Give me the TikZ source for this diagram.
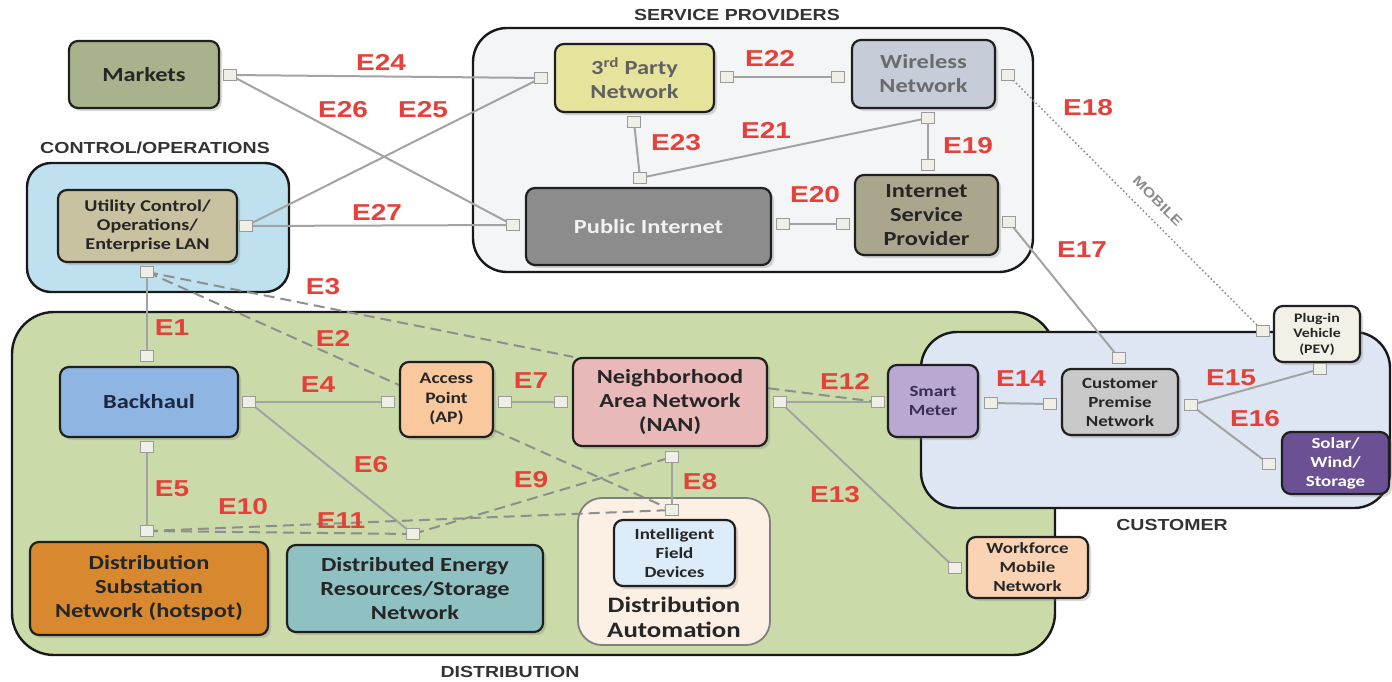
\documentclass[tikz,border=0pt]{standalone}
\usepackage{fontspec}
\newfontfamily\boxfont{Carlito}[FakeStretch=1.22]
\newfontfamily\tagfont{Liberation Sans}[FakeStretch=1.22]
\usetikzlibrary{shadows}

\definecolor{ered}{HTML}{E5413A}
\definecolor{wiregray}{HTML}{A3A3A3}
\definecolor{dashgray}{HTML}{8E8E8E}
\definecolor{portfill}{HTML}{EFEFE8}
\definecolor{portline}{HTML}{9A9A9A}
\definecolor{headgray}{HTML}{333333}
\definecolor{zonectl}{HTML}{BFE0EE}
\definecolor{zonesvc}{HTML}{F4F5F6}
\definecolor{zonedist}{HTML}{CADBA9}
\definecolor{zonecust}{HTML}{DEE6F3}
\definecolor{zoneda}{HTML}{FCEFE4}
\definecolor{cmarkets}{HTML}{A8B38D}
\definecolor{clan}{HTML}{C9C2A0}
\definecolor{cthird}{HTML}{E6E39C}
\definecolor{cwireless}{HTML}{C7CCD9}
\definecolor{cpubinet}{HTML}{8C8C8C}
\definecolor{cisp}{HTML}{AAA68D}
\definecolor{cbackhaul}{HTML}{8FB5E2}
\definecolor{cap}{HTML}{F9C89C}
\definecolor{cnan}{HTML}{E9B9B9}
\definecolor{csm}{HTML}{B9A9D2}
\definecolor{ccpn}{HTML}{C9C9C9}
\definecolor{cpev}{HTML}{F3F1E7}
\definecolor{csolar}{HTML}{6B5193}
\definecolor{cwmn}{HTML}{F9D3B3}
\definecolor{csub}{HTML}{D8892F}
\definecolor{cder}{HTML}{8FC0C2}
\definecolor{cifd}{HTML}{DCECF8}
\definecolor{navytext}{HTML}{1C2842}
\definecolor{plumtext}{HTML}{3A2C58}

\pgfdeclarelayer{zones}
\pgfdeclarelayer{wires}
\pgfsetlayers{zones,wires,main}

\tikzset{
  box/.style={draw=black!88, line width=2.2pt, rounded corners=9pt, align=center,
    inner sep=0pt, text=black!85,
    font=\boxfont\bfseries\fontsize{20}{24}\selectfont,
    drop shadow={shadow xshift=3pt, shadow yshift=-3pt, opacity=0.3}},
  dims/.style 2 args={minimum width=#1pt, minimum height=#2pt},
  midtext/.style={font=\boxfont\bfseries\fontsize{15.5}{19}\selectfont},
  smalltext/.style={font=\boxfont\bfseries\fontsize{13}{15.5}\selectfont},
  port/.style={draw=portline, fill=portfill, line width=1.5pt, minimum width=13pt,
    minimum height=11pt, inner sep=0pt},
  wire/.style={draw=wiregray, line width=2pt},
  dashwire/.style={draw=dashgray, line width=2pt, dash pattern=on 11pt off 6pt},
  dotwire/.style={draw=dashgray, line width=2.2pt, line cap=round, dash pattern=on 0pt off 4pt},
  zone/.style={draw=black!90, line width=2.4pt},
  etag/.style={text=ered, inner sep=0pt, font=\tagfont\bfseries\fontsize{23}{23}\selectfont},
  head/.style={text=headgray, inner sep=0pt, font=\tagfont\bfseries\fontsize{16}{16}\selectfont},
}

\begin{document}
\begin{tikzpicture}[x=1pt, y=-1pt]
\useasboundingbox (0,0) rectangle (1392,681);

% ---- domain areas ----
\begin{pgfonlayer}{zones}
  \draw[zone, fill=zonedist, rounded corners=42pt] (12,312) rectangle (1055,655);
  \draw[zone, fill=zonectl, rounded corners=24pt] (27,163) rectangle (289,292);
  \draw[zone, fill=zonesvc, rounded corners=34pt] (473,28) rectangle (1033,272);
  \draw[zone, fill=zonecust, rounded corners=36pt] (921,332) rectangle (1390,508);
  \draw[draw=black!50, line width=1.8pt, fill=zoneda, rounded corners=24pt] (578,498) rectangle (770,645);
\end{pgfonlayer}

% ---- domain headings ----
\node[head] (h-svc) at (737,15) {SERVICE PROVIDERS};
\node[head] (h-ctl) at (155,148) {CONTROL/OPERATIONS};
\node[head] (h-cust) at (1172,525) {CUSTOMER};
\node[head] (h-dist) at (510,672) {DISTRIBUTION};

% ---- network nodes ----
\node[box, fill=cmarkets, dims={150}{67}] (markets) at (144,74.5) {Markets};
\node[box, fill=clan, dims={179}{72}, font=\boxfont\bfseries\fontsize{16.5}{19}\selectfont] (lan) at (147.5,226) {Utility Control/\\Operations/\\Enterprise LAN};
\node[box, fill=cthird, dims={159}{68}, text=black!62] (third) at (634.5,78) {3\textsuperscript{rd} Party\\Network};
\node[box, fill=cwireless, dims={143}{68}, text=black!58] (wireless) at (923.5,74) {Wireless\\Network};
\node[box, fill=cpubinet, dims={245}{77}, text=white!95!black] (pubinet) at (648.5,226.5) {Public Internet};
\node[box, fill=cisp, dims={143}{80}] (isp) at (926.5,215) {Internet\\Service\\Provider};
\node[box, fill=cbackhaul, dims={178}{70}, text=navytext] (backhaul) at (149,402) {Backhaul};
\node[box, fill=cap, dims={93}{75}, font=\boxfont\bfseries\fontsize{16}{19.5}\selectfont] (ap) at (446.5,399.5) {Access\\Point\\(AP)};
\node[box, fill=cnan, dims={194}{88}] (nan) at (670,402) {Neighborhood\\Area Network\\(NAN)};
\node[box, fill=csm, dims={90}{72}, midtext, text=plumtext] (sm) at (933,401) {Smart\\Meter};
\node[box, fill=ccpn, dims={116}{66}, midtext] (cpn) at (1120,402) {Customer\\Premise\\Network};
\node[box, fill=cpev, dims={86}{56}, smalltext] (pev) at (1317,334) {Plug-in\\Vehicle\\(PEV)};
\node[box, fill=csolar, dims={107}{62}, midtext, text=white] (solar) at (1335.5,463) {Solar/\\Wind/\\Storage};
\node[box, fill=cwmn, dims={121}{61}, midtext] (wmn) at (1027.5,567.5) {Workforce\\Mobile\\Network};
\node[box, fill=csub, dims={238}{93}] (subst) at (149,588.5) {Distribution\\Substation\\Network (hotspot)};
\node[box, fill=cder, dims={256}{87}] (der) at (415,588.5) {Distributed Energy\\Resources/Storage\\Network};
\node[box, fill=cifd, dims={121}{66}, midtext] (ifd) at (674.5,553) {Intelligent\\Field\\Devices};
\node[align=center, inner sep=0pt, text=black!85, font=\boxfont\bfseries\fontsize{22}{25}\selectfont] (dalabel) at (674,617) {Distribution\\Automation};

% ---- interface ports ----
\node[port] (pt-mk)   at (230,75) {};
\node[port] (pt-tpl)  at (541,78) {};
\node[port] (pt-tpr)  at (727,77) {};
\node[port] (pt-tpb)  at (634,122) {};
\node[port] (pt-wl)   at (838,77) {};
\node[port] (pt-wr)   at (1008,75) {};
\node[port] (pt-wb)   at (928,118) {};
\node[port] (pt-pil)  at (513,225) {};
\node[port] (pt-pir)  at (783,224) {};
\node[port] (pt-pit)  at (640,178) {};
\node[port] (pt-ispl) at (843,224) {};
\node[port] (pt-ispr) at (1009,222) {};
\node[port] (pt-ispt) at (928,165) {};
\node[port] (pt-lanr) at (246,226) {};
\node[port] (pt-lanb) at (147,272) {};
\node[port] (pt-bht)  at (147,356) {};
\node[port] (pt-bhr)  at (249,402) {};
\node[port] (pt-bhb)  at (147,447) {};
\node[port] (pt-apl)  at (388,402) {};
\node[port] (pt-apr)  at (505,402) {};
\node[port] (pt-nanl) at (561,402) {};
\node[port] (pt-nanr) at (780,402) {};
\node[port] (pt-nanb) at (672,457) {};
\node[port] (pt-sml)  at (878,402) {};
\node[port] (pt-smr)  at (991,403) {};
\node[port] (pt-cpnl) at (1050,404) {};
\node[port] (pt-cpnt) at (1119,358) {};
\node[port] (pt-cpnr) at (1191,405) {};
\node[port] (pt-pevl) at (1263,331) {};
\node[port] (pt-pevb) at (1320,369) {};
\node[port] (pt-sol)  at (1269,464) {};
\node[port] (pt-wmn)  at (955,568) {};
\node[port] (pt-sub)  at (147,531) {};
\node[port] (pt-der)  at (413,534) {};
\node[port] (pt-ifd)  at (672,510) {};

% ---- links ----
\begin{pgfonlayer}{wires}
  \draw[wire] (pt-mk.center) -- (pt-tpl.center);     % E24
  \draw[wire] (pt-mk.center) -- (pt-pil.center);     % E26
  \draw[wire] (pt-lanr.center) -- (pt-tpl.center);   % E25
  \draw[wire] (pt-lanr.center) -- (pt-pil.center);   % E27
  \draw[wire] (pt-tpr.center) -- (pt-wl.center);     % E22
  \draw[wire] (pt-tpb.center) -- (pt-pit.center);    % E23
  \draw[wire] (pt-pit.center) -- (pt-wb.center);     % E21
  \draw[wire] (pt-wb.center) -- (pt-ispt.center);    % E19
  \draw[wire] (pt-pir.center) -- (pt-ispl.center);   % E20
  \draw[dotwire] (pt-wr.center) -- node[pos=0.54, sloped, above=11pt, inner sep=0pt, text=black!45,
      font=\tagfont\bfseries\fontsize{13.5}{13.5}\selectfont] (mobile) {MOBILE} (pt-pevl.center); % E18
  \draw[wire] (pt-ispr.center) -- (pt-cpnt.center);  % E17
  \draw[wire] (pt-smr.center) -- (pt-cpnl.center);   % E14
  \draw[wire] (pt-cpnr.center) -- (pt-pevb.center);  % E15
  \draw[wire] (pt-cpnr.center) -- (pt-sol.center);   % E16
  \draw[wire] (pt-nanr.center) -- (pt-sml.center);   % E12
  \draw[dashwire] (nan.8) -- (pt-sml.center);        % E12
  \draw[wire] (pt-nanr.center) -- (pt-wmn.center);   % E13
  \draw[wire] (pt-apr.center) -- (pt-nanl.center);   % E7
  \draw[wire] (pt-bhr.center) -- (pt-apl.center);    % E4
  \draw[wire] (pt-bhr.center) -- (pt-der.center);    % E6
  \draw[wire] (pt-lanb.center) -- (pt-bht.center);   % E1
  \draw[wire] (pt-bhb.center) -- (pt-sub.center);    % E5
  \draw[wire] (pt-nanb.center) -- (pt-ifd.center);   % E8
  \draw[dashwire] (pt-lanb.center) -- (ap.163);      % E2
  \draw[dashwire] (pt-lanb.center) -- (nan.155);     % E3
  \draw[dashwire] (ap.-33) -- (pt-ifd.center);       % E9
  \draw[dashwire] (pt-der.center) -- (pt-nanb.center); % E9
  \draw[dashwire] (pt-sub.center) -- (pt-ifd.center);  % E10
  \draw[dashwire] (pt-sub.center) -- (pt-der.center);  % E11
\end{pgfonlayer}

% ---- interface labels ----
\node[etag] (e24) at (381,62) {E24};
\node[etag] (e26) at (343,110) {E26};
\node[etag] (e25) at (423,110) {E25};
\node[etag] (e27) at (377,212) {E27};
\node[etag] (e22) at (770,58) {E22};
\node[etag] (e23) at (676,143) {E23};
\node[etag] (e21) at (766,130) {E21};
\node[etag] (e19) at (968,146) {E19};
\node[etag] (e20) at (815,195) {E20};
\node[etag] (e18) at (1088,108) {E18};
\node[etag] (e17) at (1082,250) {E17};
\node[etag] (e3)  at (323,287) {E3};
\node[etag] (e2)  at (333,338) {E2};
\node[etag] (e1)  at (172,328) {E1};
\node[etag] (e4)  at (318,385) {E4};
\node[etag] (e7)  at (531,381) {E7};
\node[etag] (e12) at (845,381) {E12};
\node[etag] (e14) at (1021,379) {E14};
\node[etag] (e15) at (1231,378) {E15};
\node[etag] (e16) at (1255,419) {E16};
\node[etag] (e5)  at (172,489) {E5};
\node[etag] (e6)  at (371,465) {E6};
\node[etag] (e9)  at (531,480) {E9};
\node[etag] (e8)  at (700,482) {E8};
\node[etag] (e10) at (243,507) {E10};
\node[etag] (e11) at (341,521) {E11};
\node[etag] (e13) at (835,495) {E13};
\end{tikzpicture}
\end{document}
